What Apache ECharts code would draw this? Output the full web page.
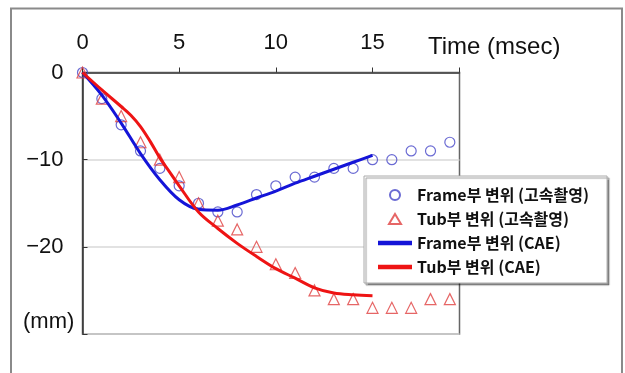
<!DOCTYPE html>
<html>
<head>
<meta charset="utf-8">
<script src="https://cdn.jsdelivr.net/npm/echarts@6/dist/echarts.min.js"></script>
<style>html,body{margin:0;padding:0;background:#fff;}#c{width:625px;height:373px;}</style>
</head>
<body>
<div id="c"></div>
<script>
// Measured (high-speed camera) data, t = 0..19 msec
const timeMeasured = [0,1,2,3,4,5,6,7,8,9,10,11,12,13,14,15,16,17,18,19];
const frameMeasured = [0,-3,-6,-9,-11,-13,-15,-16,-16,-14,-13,-12,-12,-11,-11,-10,-10,-9,-9,-8];
const tubMeasured = [0,-3,-5,-8,-10,-12,-15,-17,-18,-20,-22,-23,-25,-26,-26,-27,-27,-27,-26,-26];
// CAE curves
const timeFrameCAE = [0,1,2,3,4,5,6,7,8,9,10,11,12,13,14,15];
const frameCAE = [0,-2.6,-5.8,-9.3,-12.3,-14.6,-15.7,-15.8,-15.2,-14.4,-13.6,-12.7,-11.9,-11.1,-10.3,-9.5];
const timeTubCAE = [0,1,2,2.5,3,3.5,4,4.5,5,6,7,8,9,10,11,12,13,14,15];
const tubCAE = [0,-2.0,-3.9,-4.9,-6.2,-7.9,-9.8,-11.4,-13.0,-16.0,-17.9,-19.6,-21.1,-22.5,-23.6,-24.7,-25.3,-25.5,-25.6];
const seriesNames = ['Frame부 변위 (고속촬영)','Tub부 변위 (고속촬영)','Frame부 변위 (CAE)','Tub부 변위 (CAE)'];
const xTicks = [0,5,10,15];
const yTicks = [0,-10,-20];

const zip = (xs, ys) => xs.map((x, i) => [x, ys[i]]);
const chart = echarts.init(document.getElementById('c'), null, {renderer:'canvas'});
const FONT = 'Liberation Sans, Arial, sans-serif';
chart.setOption({
  animation: false,
  backgroundColor: '#fff',
  grid: {left: 82.5, top: 72.5, width: 377, height: 261.5, show: true, borderColor: '#666', borderWidth: 1.5, backgroundColor: 'transparent'},
  xAxis: {
    type: 'value', position: 'top', min: 0, max: 19.5, interval: 5,
    axisLine: {show: true, lineStyle: {color: '#333', width: 1.5}},
    axisTick: {show: true, inside: false, length: 5, lineStyle: {color: '#333'}},
    splitLine: {show: false},
    axisLabel: {margin: 19, fontFamily: FONT, fontSize: 22, color: '#111',
      formatter: v => xTicks.includes(v) ? String(v) : ''}
  },
  yAxis: {
    type: 'value', min: -30, max: 0, interval: 10,
    axisLine: {show: true, lineStyle: {color: '#333', width: 1.5}},
    axisTick: {show: true, inside: true, length: 5, lineStyle: {color: '#333'}},
    splitLine: {show: true, lineStyle: {color: '#d8d8d8', width: 1.5}},
    axisLabel: {margin: 19, fontFamily: FONT, fontSize: 22, color: '#111',
      formatter: v => yTicks.includes(v) ? String(v).replace('-', '\u2212') : ''}
  },
  legend: {
    orient: 'vertical', left: 364, top: 176,
    padding: [11, 18, 8, 14], itemGap: 8, itemWidth: 34, itemHeight: 10,
    backgroundColor: '#fff', borderColor: '#aaa', borderWidth: 1,
    shadowColor: 'rgba(0,0,0,0.4)', shadowOffsetX: 2, shadowOffsetY: 2, shadowBlur: 1,
    textStyle: {fontFamily: 'Noto Sans CJK KR, sans-serif', fontWeight: 'bold', fontSize: 16, color: '#111'},
    data: [
      {name: seriesNames[0], icon: 'path://M5,0 A5,5 0 1 1 4.99,0 Z'},
      {name: seriesNames[1], icon: 'path://M6,0 L12,10 L0,10 Z'},
      {name: seriesNames[2], icon: 'path://M0,0 H30 V4 H0 Z'},
      {name: seriesNames[3], icon: 'path://M0,0 H30 V4 H0 Z'}
    ]
  },
  graphic: [
    {type: 'rect', shape: {x: 11, y: 8.5, width: 611, height: 420}, style: {fill: 'none', stroke: '#8a8a8a', lineWidth: 2}, silent: true},
    {type: 'text', left: 428, top: 35, style: {text: 'Time (msec)', fontFamily: FONT, fontSize: 24, fill: '#111'}},
    {type: 'text', left: 23, top: 311, style: {text: '(mm)', fontFamily: FONT, fontSize: 22, fill: '#111'}}
  ],
  series: [
    {name: seriesNames[0], type: 'scatter', symbol: 'circle', symbolSize: 10, z: 2,
      itemStyle: {color: 'rgba(255,255,255,0)', borderColor: '#4646c8', borderWidth: 1.2},
      data: zip(timeMeasured, frameMeasured)},
    {name: seriesNames[1], type: 'scatter', symbol: 'triangle', symbolSize: 11, z: 2,
      itemStyle: {color: 'rgba(255,255,255,0)', borderColor: '#e04040', borderWidth: 1.2},
      data: zip(timeMeasured, tubMeasured)},
    {name: seriesNames[2], type: 'line', symbol: 'none', smooth: 0.35, z: 3,
      lineStyle: {color: '#1414d8', width: 3}, itemStyle: {color: '#1414d8'},
      data: zip(timeFrameCAE, frameCAE)},
    {name: seriesNames[3], type: 'line', symbol: 'none', smooth: 0.35, z: 4,
      lineStyle: {color: '#ee1414', width: 3}, itemStyle: {color: '#ee1414'},
      data: zip(timeTubCAE, tubCAE)}
  ]
});
</script>
</body>
</html>
